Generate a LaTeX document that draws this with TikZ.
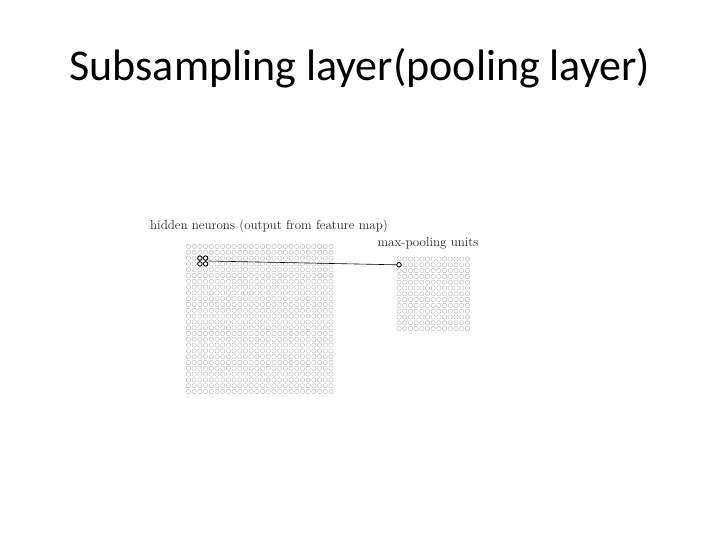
\documentclass[tikz,border=0pt]{standalone}
\usepackage{fontspec}
\newfontfamily\titlefont{Carlito}
\usetikzlibrary{positioning,arrows,calc}

\begin{document}
\begin{tikzpicture}[
      x=1pt, y=-1pt,
      auto
    ]

    \tikzstyle{unit} = [circle, draw=gray!55, line width=0.4pt, inner sep=0pt, minimum size=4.4pt]
    \tikzstyle{picked} = [unit, draw=black, fill=white, line width=0.9pt, minimum size=4.5pt]
    \tikzstyle{caption} = [font=\fontsize{13}{15}\selectfont, text=black!85, inner sep=0pt]

    \useasboundingbox (0,0) rectangle (720,540);

    \node [font=\titlefont\fontsize{44}{50}\selectfont] (title) at (360,68) {Subsampling layer(pooling layer)};

    % hidden neurons, 26 x 26
    \foreach \i in {0,...,25}
      \foreach \j in {0,...,25}
        \draw [gray!55, line width=0.4pt] (188.5+5.7*\i, 246.5+5.8*\j) circle (2.2pt);

    % max-pooling units, 13 x 13
    \foreach \i in {0,...,12}
      \foreach \j in {0,...,12}
        \draw [gray!55, line width=0.4pt] (399+5.7*\i, 259+5.8*\j) circle (2.2pt);

    \node [caption] (hidden) at (269,226) {hidden neurons (output from feature map)};
    \node [caption] (pooling) at (428,243) {max-pooling units};

    % the 2x2 region and its pooling unit
    \node [picked] (hA) at (199.9,258.1) {};
    \node [picked] (hB) at (205.6,258.1) {};
    \node [picked] (hC) at (199.9,263.9) {};
    \node [picked] (hD) at (205.6,263.9) {};
    \node [picked] (pool) at (399,264.8) {};

    \draw [black, line width=0.6pt] ($(hB.east)!0.5!(hD.east)$) -- (pool.west);

\end{tikzpicture}
\end{document}
